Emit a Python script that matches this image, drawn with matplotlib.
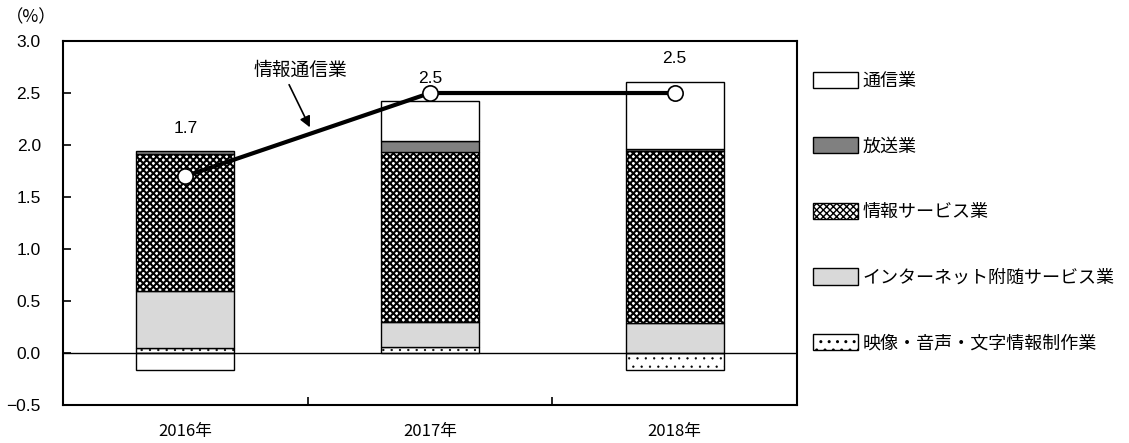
import matplotlib
matplotlib.use('Agg')
import matplotlib.pyplot as plt
import numpy as np
from matplotlib.patches import Patch

plt.rcParams['font.family'] = ['Noto Sans CJK JP', 'DejaVu Sans']

years = ['2016年', '2017年', '2018年']
# 寄与度（%ポイント）
eizo = [0.05, 0.06, -0.16]        # 映像・音声・文字情報制作業
internet = [0.55, 0.24, 0.29]     # インターネット附随サービス業
joho_service = [1.31, 1.63, 1.65] # 情報サービス業
hoso = [0.03, 0.11, 0.02]         # 放送業
tsushin = [-0.16, 0.38, 0.65]     # 通信業
total = [1.7, 2.5, 2.5]           # 情報通信業
total_labels = ['1.7', '2.5', '2.5']

# 名前, 値, 塗り, ハッチ, ハッチ線幅
series = [
    ('映像・音声・文字情報制作業', eizo, 'white', '..', 0.4),
    ('インターネット附随サービス業', internet, '#d9d9d9', None, 1.0),
    ('情報サービス業', joho_service, 'white', 'xxxxx', 1.5),
    ('放送業', hoso, '#808080', None, 1.0),
    ('通信業', tsushin, 'white', None, 1.0),
]

num_font = ['Liberation Sans', 'DejaVu Sans']

fig = plt.figure(figsize=(11.29, 4.43), dpi=100)
ax = fig.add_axes([0.0558, 0.0858, 0.6502, 0.8216])

x = np.arange(len(years))
w = 0.4
pos = np.zeros(len(years))
neg = np.zeros(len(years))
handles = []
for name, vals, fc, hatch, hlw in series:
    vals = np.array(vals)
    bottom = np.where(vals >= 0, pos, neg)
    with plt.rc_context({'hatch.linewidth': hlw}):
        ax.bar(x, vals, w, bottom=bottom, color=fc, edgecolor='black',
               linewidth=1.0, hatch=hatch, zorder=2)
        handles.append(Patch(facecolor=fc, edgecolor='black', hatch=hatch, label=name))
    pos = pos + np.where(vals >= 0, vals, 0)
    neg = neg + np.where(vals < 0, vals, 0)

ax.plot(x, total, color='black', lw=3, marker='o', ms=11,
        mfc='white', mec='black', mew=1.2, zorder=4)

for i in range(len(years)):
    ax.text(x[i], pos[i] + 0.22, total_labels[i], ha='center', va='center',
            fontsize=12.5, family=num_font)

ax.text(0.469, 2.72, '情報通信業', ha='center', va='center', fontsize=13.5)
ax.annotate('', xy=(0.509, 2.17), xytext=(0.424, 2.58),
            arrowprops=dict(arrowstyle='-|>', color='black', lw=1.2,
                            shrinkA=0, shrinkB=0, mutation_scale=16))

ax.axhline(0, color='black', lw=1.0, zorder=3)
ax.set_xlim(-0.5, 2.5)
ax.set_ylim(-0.5, 3.0)
yt = np.arange(-0.5, 3.01, 0.5)
ax.set_yticks(yt)
ax.set_yticklabels(['−0.5' if v < 0 else f'{v:.1f}' for v in yt], family=num_font)
ax.set_xticks(x)
ax.set_xticklabels(years)
ax.set_xticks([0.5, 1.5], minor=True)
ax.tick_params(axis='x', which='major', length=0, labelsize=12, pad=13)
ax.tick_params(axis='x', which='minor', direction='in', length=6, width=1.2)
ax.tick_params(axis='y', direction='in', length=6, width=1.2, labelsize=12.5, pad=16)
for s in ax.spines.values():
    s.set_linewidth(1.5)

fig.text(0.005, 0.962, '（%）', fontsize=12.5, va='center')

leg = fig.legend(handles=handles[::-1], loc='upper left', bbox_to_anchor=(0.7201, 0.838),
                 frameon=False, fontsize=13, handlelength=2.5, handleheight=1.0,
                 handletextpad=0.25, labelspacing=2.62, borderpad=0, borderaxespad=0)

plt.savefig('out.png', dpi=100)
